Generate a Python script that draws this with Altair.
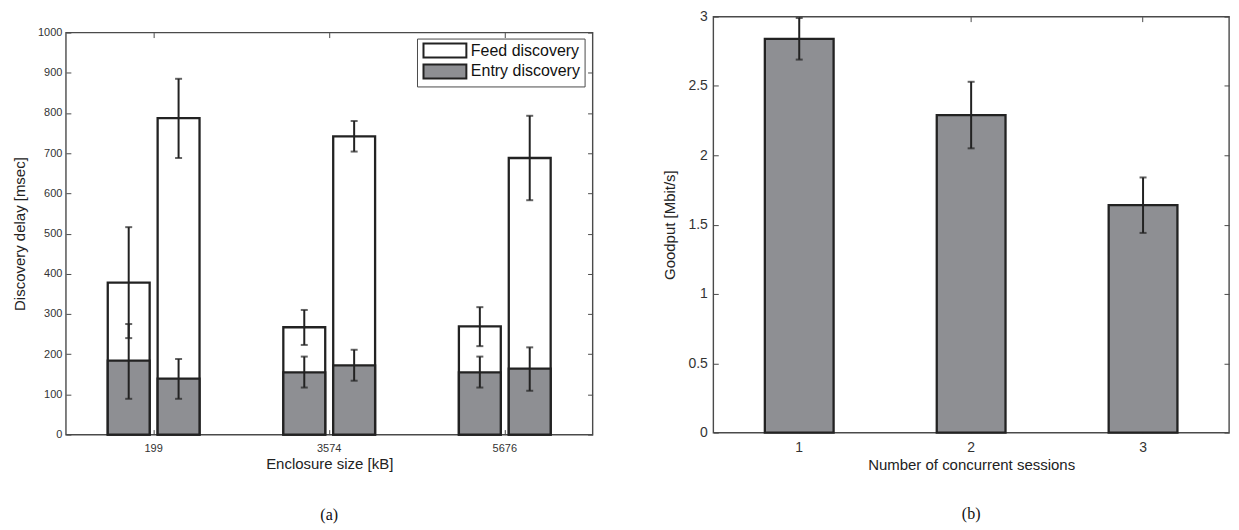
import altair as alt
import pandas as pd

# ---------------- Panel (a): discovery delay ----------------
sizes = ["199", "3574", "5676"]
slots = ["A", "B"]
series_names = ["Feed discovery", "Entry discovery"]

feed_A = [378, 267, 269]
feed_A_lo = [240, 223, 220]
feed_A_hi = [516, 310, 317]
entry_A = [184, 155, 155]
entry_A_lo = [89, 117, 117]
entry_A_hi = [275, 194, 194]

feed_B = [787, 742, 688]
feed_B_lo = [688, 704, 583]
feed_B_hi = [885, 780, 793]
entry_B = [139, 172, 164]
entry_B_lo = [89, 134, 109]
entry_B_hi = [188, 211, 217]

delay_ticks = [0, 100, 200, 300, 400, 500, 600, 700, 800, 900, 1000]

# ---------------- Panel (b): goodput ----------------
sessions = ["1", "2", "3"]
goodput = [2.84, 2.29, 1.64]
goodput_lo = [2.69, 2.05, 1.44]
goodput_hi = [2.99, 2.53, 1.84]
goodput_ticks = [0, 0.5, 1, 1.5, 2, 2.5, 3]

FONT = "Liberation Sans"
GRAY = "#8e8f93"
EDGE = "#222222"
FRAME = "#4a4a4a"
TXT = "#333333"

rows = []
for i, s in enumerate(sizes):
    for slot, f, flo, fhi, e, elo, ehi in [
        ("A", feed_A, feed_A_lo, feed_A_hi, entry_A, entry_A_lo, entry_A_hi),
        ("B", feed_B, feed_B_lo, feed_B_hi, entry_B, entry_B_lo, entry_B_hi),
    ]:
        rows.append(dict(size=s, slot=slot, series=series_names[0], value=f[i], lo=flo[i], hi=fhi[i]))
        rows.append(dict(size=s, slot=slot, series=series_names[1], value=e[i], lo=elo[i], hi=ehi[i]))
df_a = pd.DataFrame(rows)

df_b = pd.DataFrame({"sess": sessions, "value": goodput, "lo": goodput_lo, "hi": goodput_hi})

xs_a = alt.Scale(domain=sizes, paddingInner=0, paddingOuter=0)
xo_a = alt.XOffset("slot:N", scale=alt.Scale(domain=slots, paddingInner=0.16, paddingOuter=0.84))
ys_a = alt.Scale(domain=[0, 1000], nice=False)

axis_x_bottom_a = alt.Axis(orient="bottom", title="Enclosure size [kB]", labelAngle=0, offset=-5,
                           tickSize=5, labelPadding=8, titlePadding=3, labelFontSize=11, titleFontSize=15)
axis_x_top = alt.Axis(orient="top", title=None, labels=False, offset=-5, tickSize=5)
axis_y_left_a = alt.Axis(orient="left", title="Discovery delay [msec]", values=delay_ticks, format="d",
                         offset=-5, tickSize=5, labelPadding=4, titlePadding=10, labelFontSize=11,
                         titleFontSize=15)
axis_y_right_a = alt.Axis(orient="right", title=None, labels=False, values=delay_ticks, offset=-5, tickSize=5)

sym = "M-3.07,-1H3.07V1H-3.07Z"
legend_a = alt.Legend(title=None, orient="none", legendX=352, legendY=22, symbolType=sym, symbolSize=196,
                      symbolOffset=16, symbolStrokeWidth=2, labelFontSize=16, labelFont=FONT,
                      labelColor="#111", labelOffset=18, padding=4, rowPadding=-1,
                      strokeColor=FRAME, fillColor="white")

color_a = alt.Color("series:N", scale=alt.Scale(domain=series_names, range=["white", GRAY]), legend=legend_a)
stroke_a = alt.Stroke("series:N", scale=alt.Scale(domain=series_names, range=[EDGE, EDGE]), legend=legend_a)

base_a = alt.Chart(df_a)
feed_bars = base_a.transform_filter(alt.datum.series == series_names[0]).mark_bar(strokeWidth=2.3).encode(
    x=alt.X("size:N", sort=sizes, scale=xs_a, axis=axis_x_bottom_a),
    xOffset=xo_a,
    y=alt.Y("value:Q", scale=ys_a, axis=axis_y_left_a),
    color=color_a,
    stroke=stroke_a,
)
entry_bars = base_a.transform_filter(alt.datum.series == series_names[1]).mark_bar(strokeWidth=2.3).encode(
    x=alt.X("size:N", sort=sizes, scale=xs_a, axis=None),
    xOffset=xo_a,
    y=alt.Y("value:Q", scale=ys_a, axis=None),
    color=color_a,
    stroke=stroke_a,
)
err_a = base_a.mark_rule(strokeWidth=2, color=EDGE).encode(
    x=alt.X("size:N", sort=sizes, scale=xs_a, axis=axis_x_top),
    xOffset=xo_a,
    y=alt.Y("lo:Q", scale=ys_a, axis=axis_y_right_a),
    y2="hi:Q",
)
cap_lo_a = base_a.mark_tick(size=7, thickness=2, color=EDGE, orient="horizontal").encode(
    x=alt.X("size:N", sort=sizes, scale=xs_a, axis=None), xOffset=xo_a,
    y=alt.Y("lo:Q", scale=ys_a, axis=None))
cap_hi_a = base_a.mark_tick(size=7, thickness=2, color=EDGE, orient="horizontal").encode(
    x=alt.X("size:N", sort=sizes, scale=xs_a, axis=None), xOffset=xo_a,
    y=alt.Y("hi:Q", scale=ys_a, axis=None))

left = alt.layer(feed_bars, entry_bars, err_a, cap_lo_a, cap_hi_a).resolve_axis(
    x="independent", y="independent"
).properties(
    width=528, height=403,
    title=alt.TitleParams(text="(a)", orient="bottom", frame="group", anchor="middle",
                          font="Liberation Serif", fontSize=16, fontWeight="normal", color="#111", offset=36),
)

spacer = alt.Chart(pd.DataFrame({"v": [0]})).mark_point(opacity=0).properties(
    width=1, height=1, view=alt.ViewBackground(strokeOpacity=0))

left_col = alt.vconcat(spacer, left, spacing=5)

# ---------------- right panel ----------------
xs_b = alt.Scale(domain=sessions, paddingInner=0.6, paddingOuter=0.3)
ys_b = alt.Scale(domain=[0, 3], nice=False)
axis_x_bottom_b = alt.Axis(orient="bottom", title="Number of concurrent sessions", labelAngle=0, offset=-5,
                           tickSize=5, labelPadding=8, titlePadding=3, labelFontSize=14, titleFontSize=15)
axis_y_left_b = alt.Axis(orient="left", title="Goodput [Mbit/s]", values=goodput_ticks, format="~g", offset=-5,
                         tickSize=5, labelPadding=6, titlePadding=10, labelFontSize=14, titleFontSize=15)
axis_y_right_b = alt.Axis(orient="right", title=None, labels=False, values=goodput_ticks, offset=-5, tickSize=5)

base_b = alt.Chart(df_b)
bars_b = base_b.mark_bar(fill=GRAY, stroke=EDGE, strokeWidth=2.3).encode(
    x=alt.X("sess:N", sort=sessions, scale=xs_b, axis=axis_x_bottom_b),
    y=alt.Y("value:Q", scale=ys_b, axis=axis_y_left_b),
)
err_b = base_b.mark_rule(strokeWidth=2, color=EDGE).encode(
    x=alt.X("sess:N", sort=sessions, scale=xs_b, axis=axis_x_top),
    y=alt.Y("lo:Q", scale=ys_b, axis=axis_y_right_b),
    y2="hi:Q",
)
cap_lo_b = base_b.mark_tick(size=7, thickness=2, color=EDGE, orient="horizontal").encode(
    x=alt.X("sess:N", sort=sessions, scale=xs_b, axis=None),
    y=alt.Y("lo:Q", scale=ys_b, axis=None))
cap_hi_b = base_b.mark_tick(size=7, thickness=2, color=EDGE, orient="horizontal").encode(
    x=alt.X("sess:N", sort=sessions, scale=xs_b, axis=None),
    y=alt.Y("hi:Q", scale=ys_b, axis=None))

right = alt.layer(bars_b, err_b, cap_lo_b, cap_hi_b).resolve_axis(
    x="independent", y="independent"
).properties(
    width=517, height=417,
    title=alt.TitleParams(text="(b)", orient="bottom", frame="group", anchor="middle",
                          font="Liberation Serif", fontSize=16, fontWeight="normal", color="#111", offset=34),
)

chart = alt.hconcat(left_col, right, spacing=67).properties(
    padding={"left": 3, "top": 0, "right": 0, "bottom": 0}
).configure_view(
    stroke=FRAME, strokeWidth=1.4
).configure_axis(
    grid=False, domain=False, tickColor=FRAME, tickWidth=1,
    labelFont=FONT, titleFont=FONT, labelColor=TXT, titleColor="#222", titleFontWeight="normal",
)

chart.save("out.html", embed_options={"renderer": "svg", "actions": False})
